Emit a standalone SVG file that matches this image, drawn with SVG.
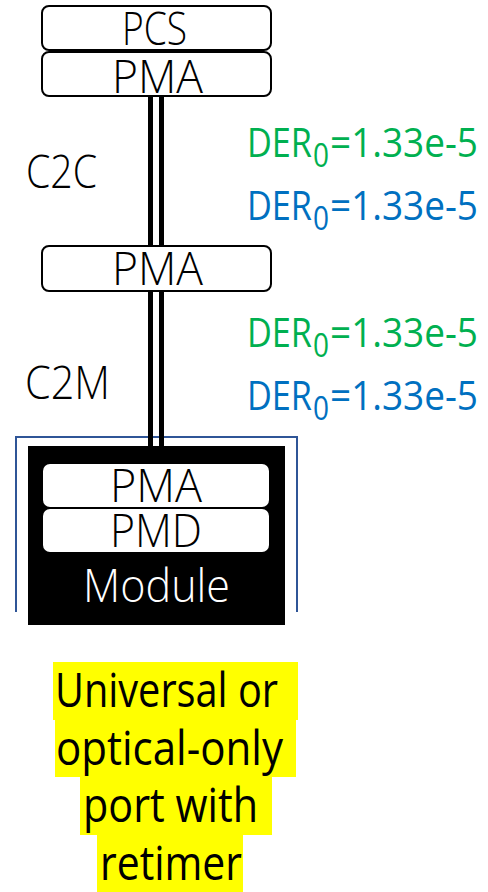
<svg xmlns="http://www.w3.org/2000/svg" width="488" height="892" viewBox="0 0 488 892">
  <style>
    .box { fill: #ffffff; stroke: #000000; stroke-width: 2; }
    .inner { fill: #ffffff; stroke: none; }
    text { font-family: "Open Sans", "Liberation Sans", sans-serif; font-weight: 350; }
    .lbl { font-size: 46px; fill: #000000; }
    .der { font-size: 40px; font-weight: 400; }
    .sub { font-size: 32px; }
    .green { fill: #00B050; }
    .blue { fill: #0070C0; }
    .note { font-size: 48px; fill: #000000; font-weight: 400; }
    .hl { fill: #FFFF00; }
    .wire { fill: #000000; }
  </style>

  <!-- module cage outline -->
  <path id="cage" d="M16,612 V437 H297 V612" fill="none" stroke="#2F5597" stroke-width="2"/>

  <!-- double-line links -->
  <g id="connectors">
    <rect class="wire" x="148" y="96" width="5" height="149"/>
    <rect class="wire" x="159" y="96" width="5" height="149"/>
    <rect class="wire" x="148" y="292" width="5" height="154"/>
    <rect class="wire" x="159" y="292" width="5" height="154"/>
  </g>

  <g id="host-pcs">
    <rect class="box" x="42" y="6" width="229" height="44" rx="7"/>
    <text class="lbl" x="122" y="45" textLength="65" lengthAdjust="spacingAndGlyphs">PCS</text>
  </g>
  <g id="host-pma">
    <rect class="box" x="42" y="52" width="229" height="44" rx="7"/>
    <text class="lbl" x="112" y="93" textLength="91" lengthAdjust="spacingAndGlyphs">PMA</text>
  </g>

  <g id="retimer-pma">
    <rect class="box" x="42" y="246" width="229" height="45" rx="7"/>
    <text class="lbl" x="112" y="285" textLength="91" lengthAdjust="spacingAndGlyphs">PMA</text>
  </g>

  <g id="module">
    <rect x="28" y="446" width="257" height="179" fill="#000000"/>
    <rect class="inner" x="43" y="464" width="226" height="43" rx="7"/>
    <text class="lbl" x="110" y="502" textLength="92" lengthAdjust="spacingAndGlyphs">PMA</text>
    <rect class="inner" x="43" y="509" width="226" height="43" rx="7"/>
    <text class="lbl" x="110" y="547" textLength="92" lengthAdjust="spacingAndGlyphs">PMD</text>
    <text class="lbl" x="83" y="602" textLength="147" lengthAdjust="spacingAndGlyphs" style="fill:#ffffff">Module</text>
  </g>

  <!-- link names -->
  <g id="link-labels">
    <text class="lbl" x="26" y="188" textLength="71" lengthAdjust="spacingAndGlyphs">C2C</text>
    <text class="lbl" x="25" y="399" textLength="85" lengthAdjust="spacingAndGlyphs">C2M</text>
  </g>

  <!-- error ratios -->
  <g id="der-c2c">
    <text class="der green" x="247" y="157"><tspan textLength="65" lengthAdjust="spacingAndGlyphs">DER</tspan><tspan class="sub" x="313" dy="10" textLength="16" lengthAdjust="spacingAndGlyphs">0</tspan><tspan x="330" dy="-10" textLength="148" lengthAdjust="spacingAndGlyphs">=1.33e-5</tspan></text>
    <text class="der blue" x="247" y="220"><tspan textLength="65" lengthAdjust="spacingAndGlyphs">DER</tspan><tspan class="sub" x="313" dy="10" textLength="16" lengthAdjust="spacingAndGlyphs">0</tspan><tspan x="330" dy="-10" textLength="148" lengthAdjust="spacingAndGlyphs">=1.33e-5</tspan></text>
  </g>
  <g id="der-c2m">
    <text class="der green" x="247" y="347"><tspan textLength="65" lengthAdjust="spacingAndGlyphs">DER</tspan><tspan class="sub" x="313" dy="10" textLength="16" lengthAdjust="spacingAndGlyphs">0</tspan><tspan x="330" dy="-10" textLength="148" lengthAdjust="spacingAndGlyphs">=1.33e-5</tspan></text>
    <text class="der blue" x="247" y="410"><tspan textLength="65" lengthAdjust="spacingAndGlyphs">DER</tspan><tspan class="sub" x="313" dy="10" textLength="16" lengthAdjust="spacingAndGlyphs">0</tspan><tspan x="330" dy="-10" textLength="148" lengthAdjust="spacingAndGlyphs">=1.33e-5</tspan></text>
  </g>

  <!-- highlighted caption -->
  <g id="caption">
    <rect class="hl" x="53" y="662" width="245" height="58"/>
    <rect class="hl" x="55" y="720" width="241" height="57"/>
    <rect class="hl" x="80" y="777" width="192" height="58"/>
    <rect class="hl" x="97" y="835" width="146" height="57"/>
    <text class="note" x="55" y="707" textLength="223" lengthAdjust="spacingAndGlyphs">Universal or</text>
    <text class="note" x="56" y="765" textLength="227" lengthAdjust="spacingAndGlyphs">optical-only</text>
    <text class="note" x="83" y="822" textLength="175" lengthAdjust="spacingAndGlyphs">port with</text>
    <text class="note" x="100" y="880" textLength="142" lengthAdjust="spacingAndGlyphs">retimer</text>
  </g>
</svg>
